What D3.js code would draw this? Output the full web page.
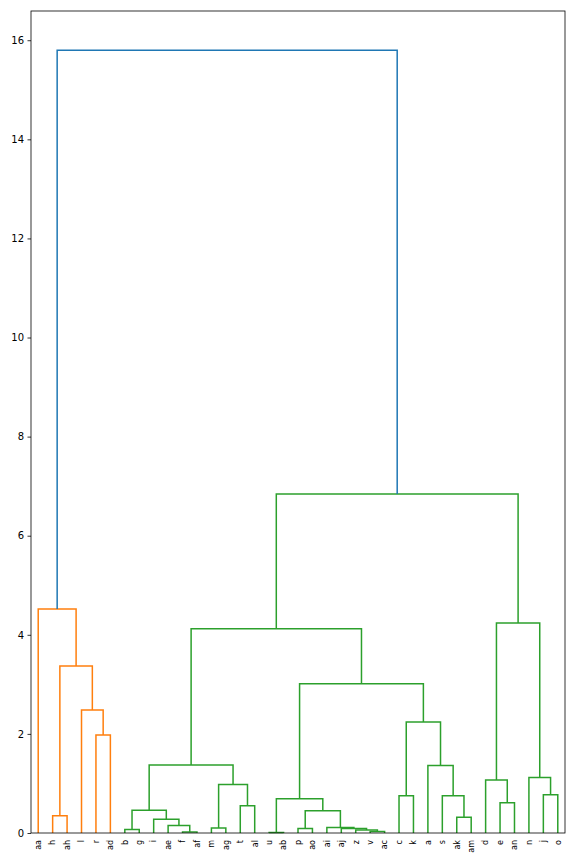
<!DOCTYPE html>
<html>
<head>
<meta charset="utf-8">
<script src="https://cdn.jsdelivr.net/npm/d3@7"></script>
<style>
  body { margin: 0; background: #fff; }
  svg { display: block; font-family: "DejaVu Sans", sans-serif; }
</style>
</head>
<body>
<div id="chart"></div>
<script>
// leaf order along the x axis
const leaves = ['aa', 'h', 'ah', 'l', 'r', 'ad', 'b', 'g', 'i', 'ae', 'f', 'af', 'm', 'ag',
  't', 'al', 'u', 'ab', 'p', 'ao', 'ai', 'aj', 'z', 'v', 'ac', 'c', 'k', 'a', 's', 'ak',
  'am', 'd', 'e', 'an', 'n', 'j', 'o'];

// merges: [cluster id, left child, right child, height]
const merges = [
  ['c1', 'h', 'ah', 0.35],
  ['c2', 'r', 'ad', 1.98],
  ['c3', 'l', 'c2', 2.48],
  ['c4', 'c1', 'c3', 3.37],
  ['c5', 'aa', 'c4', 4.52],
  ['c6', 'b', 'g', 0.07],
  ['c7', 'f', 'af', 0.02],
  ['c8', 'ae', 'c7', 0.15],
  ['c9', 'i', 'c8', 0.28],
  ['c10', 'c6', 'c9', 0.46],
  ['c11', 'm', 'ag', 0.10],
  ['c12', 't', 'al', 0.55],
  ['c13', 'c11', 'c12', 0.98],
  ['c14', 'c10', 'c13', 1.37],
  ['c15', 'u', 'ab', 0.01],
  ['c16', 'p', 'ao', 0.09],
  ['c17', 'v', 'ac', 0.03],
  ['c18', 'z', 'c17', 0.06],
  ['c19', 'aj', 'c18', 0.09],
  ['c20', 'ai', 'c19', 0.11],
  ['c21', 'c16', 'c20', 0.45],
  ['c22', 'c15', 'c21', 0.69],
  ['c23', 'c', 'k', 0.75],
  ['c24', 'ak', 'am', 0.32],
  ['c25', 's', 'c24', 0.75],
  ['c26', 'a', 'c25', 1.36],
  ['c27', 'c23', 'c26', 2.24],
  ['c28', 'c22', 'c27', 3.01],
  ['c29', 'c14', 'c28', 4.12],
  ['c30', 'e', 'an', 0.61],
  ['c31', 'd', 'c30', 1.07],
  ['c32', 'j', 'o', 0.77],
  ['c33', 'n', 'c32', 1.12],
  ['c34', 'c31', 'c33', 4.24],
  ['c35', 'c29', 'c34', 6.84],
  ['c36', 'c5', 'c35', 15.80],
];

const yTicks = [0, 2, 4, 6, 8, 10, 12, 14, 16];
const clusterColors = ['#ff7f0e', '#2ca02c'];
const aboveColor = '#1f77b4';

const width = 576;
const height = 864;
const margin = { top: 11, right: 11, bottom: 31, left: 31 };

const svg = d3.select('#chart')
  .append('svg')
  .attr('width', width)
  .attr('height', height);

const maxHeight = d3.max(merges, (d) => d[3]);
const threshold = 0.7 * maxHeight;

const x = d3.scaleBand()
  .domain(leaves)
  .range([margin.left, width - margin.right]);

const y = d3.scaleLinear()
  .domain([0, maxHeight * 1.05])
  .range([height - margin.bottom, margin.top]);

// position + height of every node
const nodes = {};
leaves.forEach((l) => {
  nodes[l] = { x: x(l) + x.bandwidth() / 2, h: 0 };
});
merges.forEach(([id, a, b, h]) => {
  nodes[id] = { x: (nodes[a].x + nodes[b].x) / 2, h, a, b };
});

// colour the subtrees below the threshold
const colorOf = {};
let colorIndex = 0;
function paint(id, color) {
  colorOf[id] = color;
  const n = nodes[id];
  if (n.a) { paint(n.a, color); paint(n.b, color); }
}
merges.slice().reverse().forEach(([id, a, b, h]) => {
  if (h >= threshold) {
    colorOf[id] = aboveColor;
    [a, b].forEach((c) => {
      if (nodes[c].a && nodes[c].h < threshold && !colorOf[c]) {
        paint(c, clusterColors[colorIndex % clusterColors.length]);
        colorIndex += 1;
      }
    });
  }
});

svg.append('g')
  .selectAll('path')
  .data(merges)
  .enter()
  .append('path')
  .attr('d', ([, a, b, h]) => {
    const na = nodes[a];
    const nb = nodes[b];
    return `M${na.x},${y(na.h)}V${y(h)}H${nb.x}V${y(nb.h)}`;
  })
  .attr('fill', 'none')
  .attr('stroke', (d) => colorOf[d[0]] || aboveColor)
  .attr('stroke-width', 1.5);

// frame
svg.append('rect')
  .attr('x', margin.left)
  .attr('y', margin.top)
  .attr('width', width - margin.left - margin.right)
  .attr('height', height - margin.top - margin.bottom)
  .attr('fill', 'none')
  .attr('stroke', '#000')
  .attr('stroke-width', 0.8);

const yAxis = svg.append('g')
  .attr('transform', `translate(${margin.left},0)`)
  .call(d3.axisLeft(y).tickValues(yTicks).tickSize(3.5).tickPadding(3.5));
yAxis.select('.domain').remove();
yAxis.selectAll('text')
  .attr('font-size', 10)
  .attr('font-family', '"DejaVu Sans", sans-serif')
  .attr('fill', '#000');
yAxis.selectAll('line').attr('stroke', '#000').attr('stroke-width', 0.8);

svg.append('g')
  .selectAll('text')
  .data(leaves)
  .enter()
  .append('text')
  .attr('transform', (d) => `translate(${x(d) + x.bandwidth() / 2},${height - margin.bottom + 7}) rotate(-90)`)
  .attr('text-anchor', 'end')
  .attr('dy', '0.35em')
  .attr('font-size', 8)
  .attr('fill', '#000')
  .text((d) => d);
</script>
</body>
</html>
